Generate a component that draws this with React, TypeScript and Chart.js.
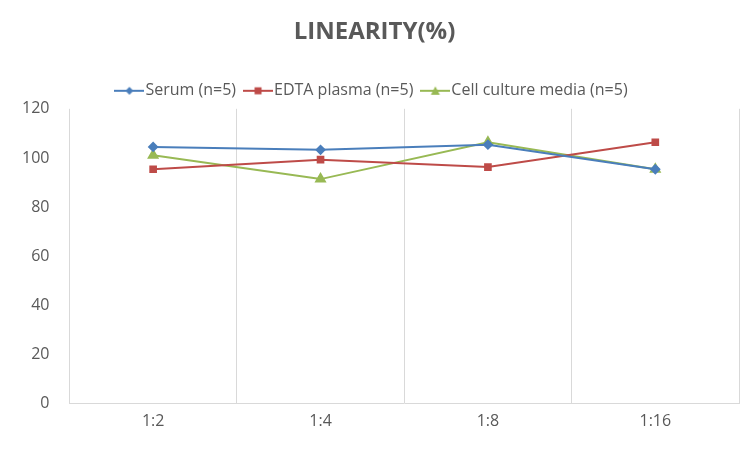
import React, { useEffect, useRef } from "react";
import { Chart, registerables } from "chart.js";
Chart.register(...registerables);

const categories = ["1:2", "1:4", "1:8", "1:16"];
const serum = [104.5, 103.3, 105.4, 95.4];
const edta = [95.4, 99.3, 96.3, 106.4];
const cell = [101.1, 91.4, 106.4, 95.4];
const yTicks = [0, 20, 40, 60, 80, 100, 120];

function marker(color: string, kind: string) {
  const c = document.createElement("canvas");
  c.width = 30; c.height = 12;
  const g = c.getContext("2d")!;
  g.strokeStyle = color; g.fillStyle = color; g.lineWidth = 2;
  g.beginPath(); g.moveTo(0, 6); g.lineTo(30, 6); g.stroke();
  g.beginPath();
  if (kind === "d") { g.moveTo(15, 2); g.lineTo(19, 6); g.lineTo(15, 10); g.lineTo(11, 6); }
  else if (kind === "s") { g.rect(11.5, 2.5, 7, 7); }
  else { g.moveTo(15, 1.5); g.lineTo(19.5, 10); g.lineTo(10.5, 10); }
  g.closePath(); g.fill();
  return c;
}

export default function App() {
  const ref = useRef<HTMLCanvasElement>(null);
  useEffect(() => {
    const font = "'Open Sans', 'DejaVu Sans', sans-serif";
    const chart = new Chart(ref.current!, {
      type: "line",
      data: {
        labels: categories,
        datasets: [
          { label: "Serum (n=5)", data: serum, borderColor: "#4a7ebb", backgroundColor: "#4a7ebb", pointStyle: marker("#4a7ebb", "d"), pointRadius: 4, borderWidth: 2 },
          { label: "EDTA plasma (n=5)", data: edta, borderColor: "#be4b48", backgroundColor: "#be4b48", pointStyle: marker("#be4b48", "s"), pointRadius: 4, borderWidth: 2 },
          { label: "Cell culture media (n=5)", data: cell, borderColor: "#98b954", backgroundColor: "#98b954", pointStyle: marker("#98b954", "t"), pointRadius: 5, borderWidth: 2 },
        ] as any,
        
      },
      options: {
        animation: false,
        responsive: false,
        layout: { padding: { left: 2, right: 8, top: 6, bottom: 4 } },
        elements: { point: { pointStyle: "rectRot" } },
        plugins: {
          title: { display: true, text: "LINEARITY(%)", color: "#595959", font: { family: font, size: 24, weight: "bold" }, padding: { top: 4, bottom: 22 } },
          legend: {
            labels: { usePointStyle: true, color: "#595959", font: { family: font, size: 16 }, padding: 14 },
          },
          tooltip: { enabled: false },
        },
        scales: {
          x: {
            offset: true,
            grid: { offset: true, color: "#d9d9d9", drawTicks: false },
            border: { color: "#d9d9d9" },
            ticks: { color: "#595959", font: { family: font, size: 16 }, padding: 8 },
          },
          y: {
            min: 0, max: 120,
            afterBuildTicks: (s: any) => { s.ticks = yTicks.map((v) => ({ value: v })); },
            grid: { display: false },
            border: { display: false },
            ticks: { color: "#595959", font: { family: font, size: 16 }, padding: 12 },
          },
        },
      },
    });
    // use plain diamond/square/triangle on the data points, canvas image only in legend
    const styles = ["rectRot", "rect", "triangle"];
    chart.data.datasets.forEach((d: any, i: number) => { d.pointStyle = styles[i]; });
    chart.options.plugins!.legend!.labels!.generateLabels = (c: any) =>
      Chart.defaults.plugins.legend.labels.generateLabels(c).map((l: any, i: number) => ({
        ...l, pointStyle: marker(["#4a7ebb", "#be4b48", "#98b954"][i], ["d", "s", "t"][i]),
      }));
    chart.update();
    return () => chart.destroy();
  }, []);
  return <canvas ref={ref} width={739} height={435} />;
}
